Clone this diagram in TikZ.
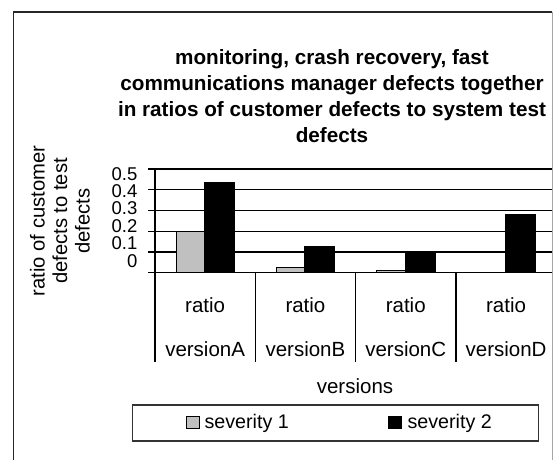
\documentclass[tikz,border=0pt]{standalone}
\usepackage{fontspec}
\setmainfont{Liberation Sans}
\definecolor{barlight}{HTML}{C0C0C0}
\begin{document}
\begin{tikzpicture}[x=1pt,y=-1pt,
  gridline/.style={line width=1.3pt,black},
  axisline/.style={line width=1.3pt,black},
  barbox/.style={draw=black,line width=1pt},
  txt/.style={inner sep=0pt,font=\fontsize{20.5}{24}\selectfont},
  ticklbl/.style={inner sep=0pt,anchor=base east,font=\fontsize{18.5}{20}\selectfont},
  titletxt/.style={inner sep=0pt,align=center,font=\fontsize{20.7}{26}\selectfont\bfseries}]
\useasboundingbox (0,0) rectangle (556,460);
\fill[white] (0,0) rectangle (556,460);
% outer frame
\draw[line width=1.4pt,black!85] (13.5,460) -- (13.5,12) -- (552,12);
\draw[line width=0.8pt,black!35] (552,12) -- (552,460);
% title (base anchor = baseline of last line)
\node[titletxt,anchor=base] (title) at (332,142)
  {monitoring, crash recovery, fast\\communications manager defects together\\in ratios of customer defects to system test\\defects};
% gridlines (value v at y = 272.7 - 207.4 v)
\foreach \v/\lab [count=\i] in {0/0,0.1/0.1,0.2/0.2,0.3/0.3,0.4/0.4,0.5/0.5}{
  \draw[gridline] (148,{272.7-207.4*\v}) -- (552,{272.7-207.4*\v});
  \node[ticklbl] (tick\i) at (137.5,{267-(\i-1)*17.4}) {\lab};
}
% bars
\foreach \c/\g/\b in {0/0.2/0.436, 1/0.026/0.125, 2/0.01/0.098, 3/0/0.281}{
  \pgfmathsetmacro{\cl}{155+100.3*\c}
  \ifdim \g pt>0pt
    \draw[barbox,fill=barlight] ({\cl+21},272.7) rectangle ({\cl+49.5},{272.7-207.4*\g});
  \fi
  \draw[barbox,fill=black] ({\cl+49.5},272.7) rectangle ({\cl+79.5},{272.7-207.4*\b});
}
% axis and category separators
\draw[axisline] (155,169) -- (155,361.7);
\foreach \i in {1,2,3}{
  \draw[axisline] ({155+100.3*\i},272.7) -- ({155+100.3*\i},361.7);
}
% category labels
\foreach \n [count=\i] in {A,B,C,D}{
  \node[txt,anchor=base] (ratio\n) at ({155+100.3*(\i-0.5)},312) {ratio};
  \node[txt,anchor=base] (ver\n) at ({155+100.3*(\i-0.5)},356) {version\n};
}
% axis titles
\node[txt,anchor=base] (xtitle) at (355,393) {versions};
\node[txt,rotate=90,align=center,font=\fontsize{20.2}{22.5}\selectfont] (ytitle) at (60,221)
  {ratio of customer\\defects to test\\defects};
% legend
\node[draw=black!80,line width=1.4pt,minimum width=405.6pt,minimum height=36pt,inner sep=0pt] (legend) at (335.5,423) {};
\draw[line width=1pt,black,fill=barlight] (186.7,416.7) rectangle (199.3,428.8);
\node[txt,anchor=base west,font=\fontsize{19.7}{22}\selectfont] (leg1) at (204.3,428.8) {severity 1};
\draw[line width=1pt,black,fill=black] (388.3,416.7) rectangle (401,428.8);
\node[txt,anchor=base west,font=\fontsize{19.7}{22}\selectfont] (leg2) at (407.3,428.8) {severity 2};
\end{tikzpicture}
\end{document}
